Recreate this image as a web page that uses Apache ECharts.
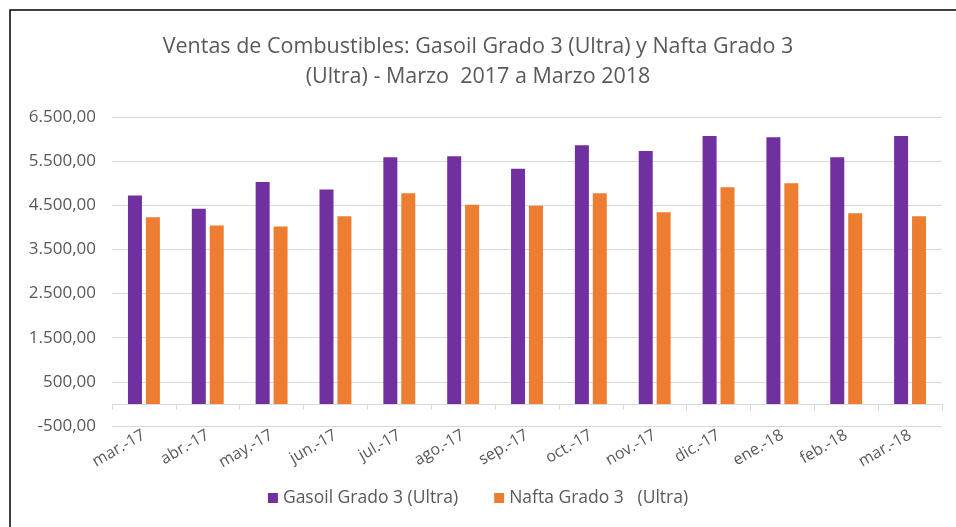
<!DOCTYPE html>
<html>
<head>
<meta charset="utf-8">
<script src="https://cdn.jsdelivr.net/npm/echarts@6/dist/echarts.min.js"></script>
<style>
    html, body { margin: 0; padding: 0; background: #fff; }
    #chart { width: 956px; height: 527px; }
</style>
</head>
<body>
<div id="chart"></div>
<script>
// meses
var categories = ['mar.-17', 'abr.-17', 'may.-17', 'jun.-17', 'jul.-17', 'ago.-17', 'sep.-17',
    'oct.-17', 'nov.-17', 'dic.-17', 'ene.-18', 'feb.-18', 'mar.-18'];
var seriesNames = ['Gasoil Grado 3 (Ultra)', 'Nafta Grado 3   (Ultra)'];
var gasoil = [4720, 4420, 5030, 4860, 5590, 5610, 5330, 5860, 5730, 6070, 6040, 5590, 6070];
var nafta = [4230, 4040, 4020, 4250, 4770, 4510, 4490, 4770, 4340, 4910, 5000, 4320, 4250];
var yTicks = [-500, 500, 1500, 2500, 3500, 4500, 5500, 6500];

var font = 'Open Sans';
var gray = '#595959';

// 6500 -> 6.500,00
function fmt(v) {
    var neg = v < 0;
    var s = Math.abs(Math.round(v)).toString().replace(/\B(?=(\d{3})+(?!\d))/g, '.');
    return (neg ? '-' : '') + s + ',00';
}

var myChart = echarts.init(document.getElementById('chart'));
var option = {
    animation: false,
    color: ['#7030A0', '#ED7D31'],
    title: {
        text: 'Ventas de Combustibles: Gasoil Grado 3 (Ultra) y Nafta Grado 3\n(Ultra) - Marzo  2017 a Marzo 2018',
        left: 'center',
        top: 27,
        textStyle: { fontFamily: font, fontSize: 21.5, fontWeight: 'normal', color: gray, lineHeight: 30 }
    },
    graphic: [{
        type: 'rect',
        shape: { x: 10, y: 10, width: 1000, height: 1000 },
        style: { fill: 'none', stroke: '#000', lineWidth: 1.5 },
        silent: true
    }],
    legend: {
        bottom: 15,
        left: 'center',
        itemWidth: 10,
        itemHeight: 10,
        itemGap: 36,
        icon: 'rect',
        textStyle: { fontFamily: font, fontSize: 17.5, color: gray }
    },
    grid: { left: 112, right: 14, top: 117, bottom: 101, containLabel: false },
    xAxis: [{
        type: 'category',
        data: categories,
        axisLine: { onZero: true, lineStyle: { color: '#d9d9d9', width: 1 } },
        axisTick: { show: true, length: 6, lineStyle: { color: '#d9d9d9' } },
        axisLabel: { show: false }
    }, {
        type: 'category',
        data: categories,
        position: 'bottom',
        axisLine: { show: false, onZero: false },
        axisTick: { show: false },
        axisLabel: { rotate: 30, margin: 8, fontFamily: font, fontSize: 16, color: gray }
    }],
    yAxis: {
        type: 'value',
        min: -500,
        max: 6500,
        interval: 1000,
        axisLine: { show: false },
        axisTick: { show: false },
        splitLine: { lineStyle: { color: '#d9d9d9' } },
        axisLabel: { margin: 16, fontFamily: font, fontSize: 17, color: gray, formatter: fmt }
    },
    series: [{
        name: seriesNames[0],
        type: 'bar',
        data: gasoil,
        barWidth: 14,
        barGap: '28%'
    }, {
        name: seriesNames[1],
        type: 'bar',
        data: nafta,
        barWidth: 14,
        barGap: '28%'
    }]
};
myChart.setOption(option);
</script>
</body>
</html>
